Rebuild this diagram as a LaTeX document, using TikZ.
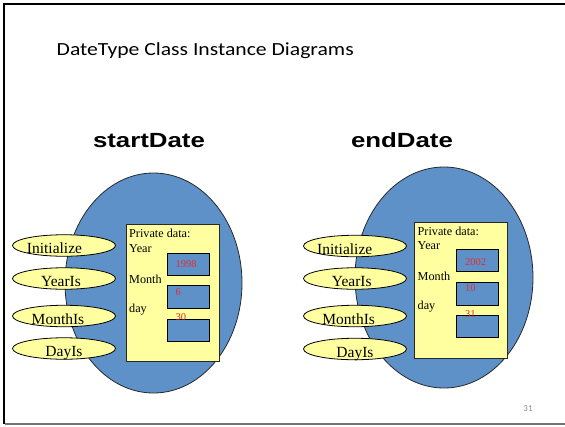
\documentclass[tikz,border=0pt]{standalone}
\usepackage{fontspec}
\usepackage{graphicx}
\setmainfont{Liberation Serif}
\newfontfamily\titlefont{Carlito}
\newfontfamily\headfont{Liberation Sans}
\usetikzlibrary{shapes.geometric}
\definecolor{objblue}{RGB}{93,145,200}
\definecolor{paleyel}{RGB}{255,255,160}
\definecolor{valred}{RGB}{225,45,45}
\definecolor{edgegray}{RGB}{40,40,40}
\tikzset{
  bigell/.style={ellipse, draw=edgegray, fill=objblue, line width=0.8pt, inner sep=0pt},
  method/.style={ellipse, draw=black, fill=paleyel, line width=0.8pt, inner sep=0pt, minimum width=103pt, minimum height=21.5pt},
  mtext/.style={anchor=base, inner sep=0pt, font=\fontsize{15.5}{15.5}\selectfont},
  databox/.style={draw=edgegray, fill=paleyel, line width=0.8pt, inner sep=0pt},
  slot/.style={draw=black, fill=objblue, line width=0.9pt, inner sep=0pt, minimum width=42pt, minimum height=22.5pt},
  dtext/.style={anchor=base west, inner sep=0pt, font=\fontsize{12.2}{12.2}\selectfont},
  vtext/.style={anchor=base west, inner sep=0pt, text=valred, font=\fontsize{10.5}{10.5}\selectfont},
  objname/.style={anchor=base, inner sep=0pt, font=\headfont\bfseries\fontsize{20.5}{20.5}\selectfont}
}
\begin{document}
\begin{tikzpicture}[x=1pt, y=-1pt]
\useasboundingbox (0,0) rectangle (565,426);
% frame
\draw[black, line width=2pt] (4,424) -- (4,4) -- (565,4);
\draw[black!55, line width=1.2pt] (5,424) -- (565,424);
% title
\node[anchor=base west, inner sep=0pt, font=\titlefont\fontsize{18.5}{18.5}\selectfont] (title) at (56.5,55) {\scalebox{1.17}[1]{DateType Class Instance Diagrams}};
\node[objname] (sname) at (149,147.5) {\scalebox{1.26}[1]{startDate}};
\node[objname] (ename) at (402,147.5) {\scalebox{1.26}[1]{endDate}};
% ---------- startDate ----------
\node[bigell, minimum width=177pt, minimum height=220pt] (sobj) at (153.5,283) {};
\node[databox, minimum width=93pt, minimum height=137pt] (sdata) at (172.5,292.5) {};
\node[dtext] (sprv) at (129,237.5) {Private data:};
\node[dtext] (syear) at (129,252) {Year};
\node[dtext] (smonth) at (129,283) {Month};
\node[dtext] (sday) at (129,312) {day};
\node[slot] (sy) at (188,264.5) {};
\node[slot] (sm) at (188,297) {};
\node[slot] (sd) at (188,330.5) {};
\node[vtext] (syv) at (175.5,267.5) {1998};
\node[vtext] (smv) at (175.5,295) {6};
\node[vtext] (sdv) at (175.5,320.5) {30};
\node[method] (sinit) at (64,245.5) {};
\node[method] (syr) at (64,278.5) {};
\node[method] (smo) at (64,316) {};
\node[method] (sda) at (64,348.5) {};
\node[mtext] at (54.5,253.5) {Initialize};
\node[mtext] at (61,286.5) {YearIs};
\node[mtext] at (58,324) {MonthIs};
\node[mtext] at (64,356.5) {DayIs};
% ---------- endDate ----------
\node[bigell, minimum width=178pt, minimum height=221pt] (eobj) at (444,277.5) {};
\node[databox, minimum width=93pt, minimum height=136pt] (edata) at (460.5,290) {};
\node[dtext] (eprv) at (417.5,235.5) {Private data:};
\node[dtext] (eyear) at (417.5,249.5) {Year};
\node[dtext] (emonth) at (417.5,280) {Month};
\node[dtext] (eday) at (417.5,309.5) {day};
\node[slot] (ey) at (477,260.5) {};
\node[slot] (em) at (477,294) {};
\node[slot] (ed) at (477,326.5) {};
\node[vtext] (eyv) at (465,265) {2002};
\node[vtext] (emv) at (465,291.5) {10};
\node[vtext] (edv) at (465,317.5) {31};
\node[method] (einit) at (355,246) {};
\node[method] (eyr) at (355,278.5) {};
\node[method] (emo) at (355,316) {};
\node[method] (eda) at (355,349) {};
\node[mtext] at (344.7,254) {Initialize};
\node[mtext] at (351.8,286.5) {YearIs};
\node[mtext] at (348.7,324) {MonthIs};
\node[mtext] at (355,357) {DayIs};
% page number
\node[anchor=base, inner sep=0pt, text=black!45, font=\titlefont\fontsize{9}{9}\selectfont] (pnum) at (528,411) {31};
\end{tikzpicture}
\end{document}
